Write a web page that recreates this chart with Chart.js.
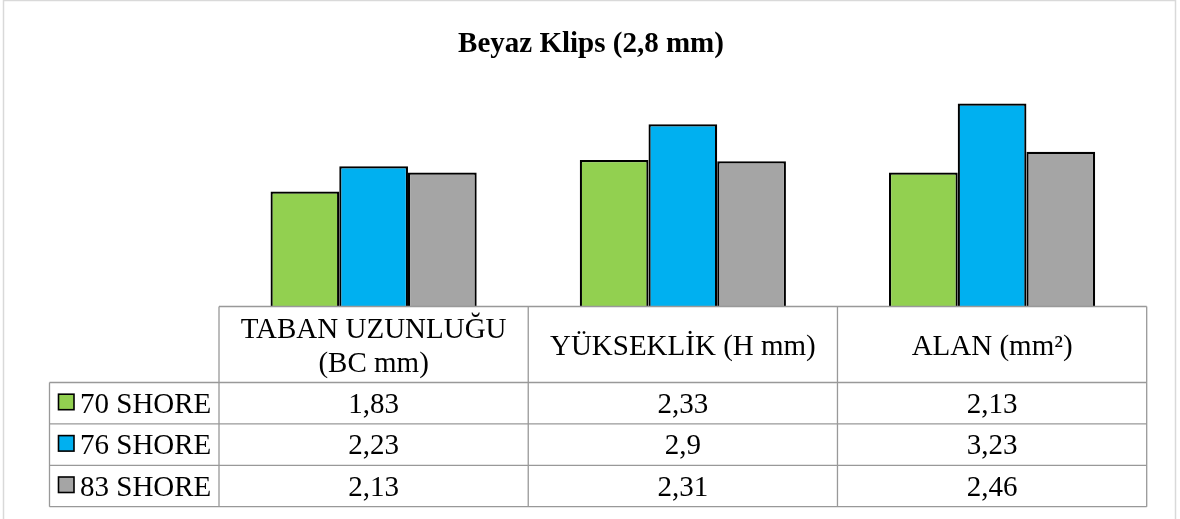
<!DOCTYPE html>
<html>
<head>
<meta charset="utf-8">
<script src="https://cdn.jsdelivr.net/npm/chart.js@4/dist/chart.umd.min.js"></script>
<style>
  body { margin: 0; background: #fff; }
  #wrap { width: 1180px; height: 519px; }
</style>
</head>
<body>
<div id="wrap"><canvas id="chart" width="1180" height="519"></canvas></div>
<script>
const TITLE = 'Beyaz Klips (2,8 mm)';
const categories = [['TABAN UZUNLUĞU', '(BC mm)'], ['YÜKSEKLİK (H mm)'], ['ALAN (mm²)']];
const seriesNames = ['70 SHORE', '76 SHORE', '83 SHORE'];
const shore70 = [1.83, 2.33, 2.13];
const shore76 = [2.23, 2.9, 3.23];
const shore83 = [2.13, 2.31, 2.46];
const colors = ['#92d050', '#00b0f0', '#a5a5a5'];

const FONT = '"Liberation Serif", "Times New Roman", serif';
const HEADER_H = 76;
const ROW_H = 41.4;
const LEGEND_LEFT = 49.5;

const fmt = v => String(v).replace('.', ',');

const tablePlugin = {
    id: 'dataTable',
    beforeDraw(chart) {
        const ctx = chart.ctx;
        ctx.save();
        ctx.fillStyle = '#fff';
        ctx.fillRect(0, 0, chart.width, chart.height);
        ctx.strokeStyle = '#d9d9d9';
        ctx.lineWidth = 1.5;
        ctx.strokeRect(3.5, 0.5, 1172, 560);
        ctx.restore();
    },
    afterDraw(chart) {
        const ctx = chart.ctx;
        const area = chart.chartArea;
        const x = chart.scales.x;
        const colW = (area.right - area.left) / categories.length;
        const top = area.bottom;
        const rowsTop = top + HEADER_H;
        const bottom = rowsTop + ROW_H * seriesNames.length;

        ctx.save();
        // title
        ctx.fillStyle = '#000';
        ctx.font = 'bold 29px ' + FONT;
        ctx.textAlign = 'center';
        ctx.textBaseline = 'alphabetic';
        ctx.fillText(TITLE, 591, 52);

        // table grid
        ctx.strokeStyle = '#999';
        ctx.lineWidth = 1.3;
        ctx.beginPath();
        ctx.moveTo(area.left, top); ctx.lineTo(area.right, top);
        for (let r = 0; r <= seriesNames.length; r++) {
            const y = rowsTop + r * ROW_H;
            ctx.moveTo(LEGEND_LEFT, y); ctx.lineTo(area.right, y);
        }
        for (let c = 0; c <= categories.length; c++) {
            const xx = area.left + c * colW;
            ctx.moveTo(xx, top); ctx.lineTo(xx, bottom);
        }
        ctx.moveTo(LEGEND_LEFT, rowsTop); ctx.lineTo(LEGEND_LEFT, bottom);
        ctx.stroke();

        // header
        ctx.font = '29px ' + FONT;
        ctx.textAlign = 'center';
        categories.forEach((lines, i) => {
            const cx = x.getPixelForValue(i);
            const midY = top + HEADER_H / 2;
            const lh = 34;
            lines.forEach((ln, k) => {
                const y = midY + (k - (lines.length - 1) / 2) * lh + 10;
                ctx.fillText(ln, cx, y);
            });
        });

        // rows
        chart.data.datasets.forEach((ds, r) => {
            const cy = rowsTop + r * ROW_H + ROW_H / 2;
            ds.data.forEach((v, i) => {
                ctx.textAlign = 'center';
                ctx.fillText(fmt(v), x.getPixelForValue(i), cy + 9.5);
            });
            // legend key
            ctx.fillStyle = ds.backgroundColor;
            ctx.fillRect(58.5, cy - 9, 15.5, 15.5);
            ctx.strokeStyle = '#000';
            ctx.lineWidth = 1.6;
            ctx.strokeRect(58.5, cy - 9, 15.5, 15.5);
            ctx.fillStyle = '#000';
            ctx.textAlign = 'left';
            ctx.fillText(ds.label, 80, cy + 9.5);
        });
        ctx.restore();
    }
};

new Chart(document.getElementById('chart'), {
    type: 'bar',
    data: {
        labels: categories,
        datasets: [
            { label: seriesNames[0], data: shore70, backgroundColor: colors[0] },
            { label: seriesNames[1], data: shore76, backgroundColor: colors[1] },
            { label: seriesNames[2], data: shore83, backgroundColor: colors[2] }
        ].map(d => Object.assign(d, {
            borderColor: '#000',
            borderWidth: 2.2,
            barPercentage: 1,
            categoryPercentage: 0.6667
        }))
    },
    options: {
        responsive: false,
        animation: false,
        layout: { padding: { left: 219, right: 33.3, top: 86.5, bottom: 212.5 } },
        scales: {
            x: { display: false },
            y: { display: false, min: 0, max: 3.5 }
        },
        plugins: {
            legend: { display: false },
            title: { display: false },
            tooltip: { enabled: false }
        }
    },
    plugins: [tablePlugin]
});
</script>
</body>
</html>
